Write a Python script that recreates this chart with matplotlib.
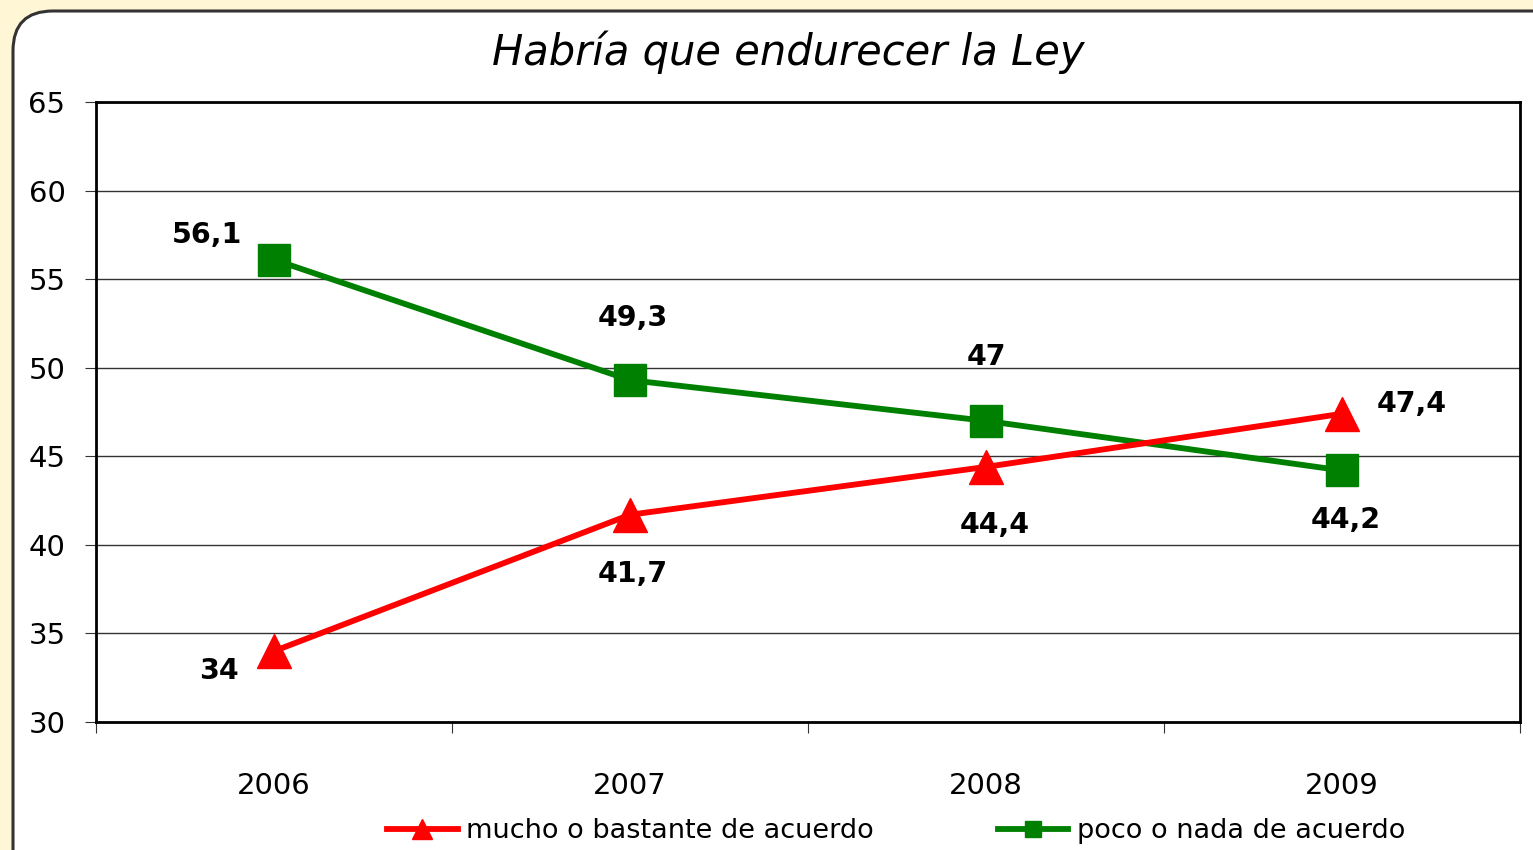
import matplotlib
matplotlib.use("Agg")
import matplotlib.pyplot as plt
from matplotlib.patches import FancyBboxPatch
from matplotlib.lines import Line2D

years = ["2006", "2007", "2008", "2009"]
mucho = [34, 41.7, 44.4, 47.4]
poco = [56.1, 49.3, 47, 44.2]
mucho_labels = ["34", "41,7", "44,4", "47,4"]
poco_labels = ["56,1", "49,3", "47", "44,2"]
y_ticks = [30, 35, 40, 45, 50, 55, 60, 65]

RED = "#FF0000"
GREEN = "#008000"

plt.rcParams["font.family"] = ["DejaVu Sans"]

fig = plt.figure(figsize=(15.33, 8.5), dpi=100)
fig.patch.set_facecolor("#FFF6D6")

box = FancyBboxPatch((13 / 1533, -0.05), 1.05, 1 - 11 / 850 + 0.05,
                     boxstyle="round,pad=0,rounding_size=0.026",
                     transform=fig.transFigure, facecolor="white",
                     edgecolor="#333333", linewidth=2.2, mutation_aspect=1533 / 850,
                     zorder=-5)
fig.patches.append(box)

ax = fig.add_axes([96 / 1533, 1 - 722 / 850, (1520 - 96) / 1533, (722 - 102) / 850])
ax.set_facecolor("white")

x = list(range(len(years)))
ax.plot(x, poco, color=GREEN, linewidth=4.2, marker="s", markersize=23,
        markeredgecolor=GREEN, zorder=3, label="poco o nada de acuerdo")
ax.plot(x, mucho, color=RED, linewidth=4.2, marker="^", markersize=24,
        markeredgecolor=RED, zorder=3, label="mucho o bastante de acuerdo")

ax.set_xlim(-0.5, len(years) - 0.5)
ax.set_ylim(30, 65)
ax.set_yticks(y_ticks)
ax.set_yticklabels([str(v) for v in y_ticks], fontsize=21)
ax.set_xticks([i - 0.5 for i in range(len(years) + 1)])
ax.set_xticklabels([])
ax.set_xticks(x, minor=True)
ax.set_xticklabels(years, minor=True, fontsize=21)
ax.tick_params(axis="x", which="minor", length=0, pad=36)
ax.tick_params(axis="x", which="major", length=8, direction="out", color="#333333")
ax.tick_params(axis="y", length=8, direction="out", color="#333333", pad=14)
ax.grid(axis="y", color="#333333", linewidth=1)
for s in ax.spines.values():
    s.set_linewidth(2)
    s.set_color("black")

lab = dict(fontsize=20.5, fontweight="bold", color="black")
# label offsets in points
poco_off = [(-48, 18), (2, 45), (0, 46), (3, -36)]
mucho_off = [(-40, -14), (2, -43), (6, -42), (50, 7)]
for i in x:
    ax.annotate(poco_labels[i], (i, poco[i]), xytext=poco_off[i], textcoords="offset points",
                ha="center", va="center", **lab)
    ax.annotate(mucho_labels[i], (i, mucho[i]), xytext=mucho_off[i], textcoords="offset points",
                ha="center", va="center", **lab)

fig.text(788 / 1533, 1 - 52 / 850, "Habría que endurecer la Ley", fontsize=30,
         style="italic", ha="center", va="center")

handles = [Line2D([], [], color=RED, linewidth=4.2, marker="^", markersize=14),
           Line2D([], [], color=GREEN, linewidth=4.2, marker="s", markersize=12)]
fig.legend(handles, ["mucho o bastante de acuerdo", "poco o nada de acuerdo"],
           loc="center", bbox_to_anchor=(896 / 1533, 1 - 831 / 850), ncol=2,
           frameon=False, fontsize=19.5, handlelength=2.6, handletextpad=0.3,
           columnspacing=4.6)

fig.savefig("out.png", dpi=100, facecolor=fig.get_facecolor())
